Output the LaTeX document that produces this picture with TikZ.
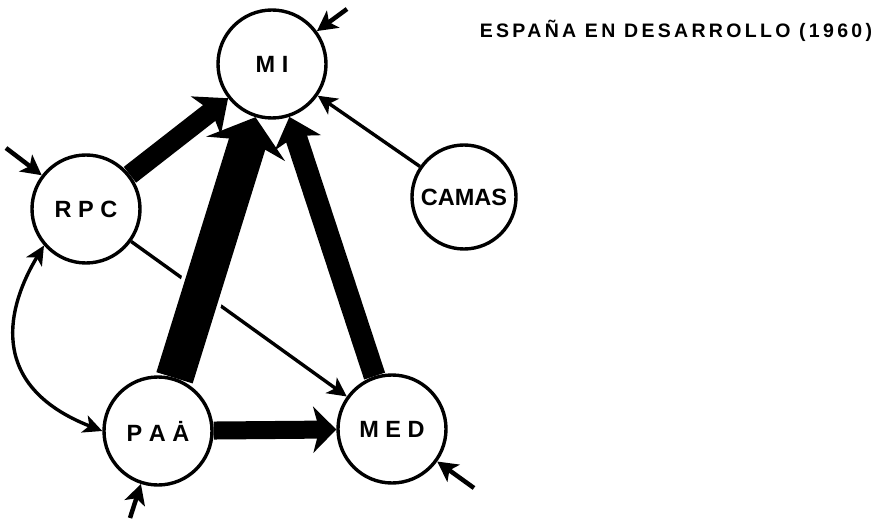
\documentclass[tikz,border=0pt]{standalone}
\usepackage{fontspec}
\setmainfont{Liberation Sans}
\newfontfamily\titlefont[LetterSpace=17]{Liberation Sans}
\usetikzlibrary{arrows.meta}
\begin{document}
\begin{tikzpicture}[x=1pt,y=-1pt,
  state/.style={circle,draw,line width=3.4pt,fill=white,minimum size=108pt,inner sep=0pt,font=\bfseries\fontsize{23.5}{26}\selectfont},
  thin/.style={line width=3.4pt,-{Stealth[length=19pt,width=19pt,inset=5pt]}},
  stub/.style={line width=4.5pt,-{Stealth[length=20pt,width=21pt,inset=5pt]}},
  flowA/.style={line width=38pt,-{Stealth[length=33pt,width=82pt,inset=9pt]}},
  flowB/.style={line width=22pt,-{Stealth[length=27pt,width=48pt,inset=7pt]}},
  flowC/.style={line width=20pt,-{Stealth[length=28pt,width=48pt,inset=7pt]}},
  flowD/.style={line width=18pt,-{Stealth[length=23pt,width=46pt,inset=6pt]}},
  curvearrow/.style={line width=3.4pt,{Stealth[length=19pt,width=18pt,inset=5pt]}-{Stealth[length=19pt,width=18pt,inset=5pt]}}
]
\useasboundingbox (0,0) rectangle (883,521);

\node[state] (MI) at (272,64) {M I};
\node[state] (RPC) at (86,209) {R P C};
\node[state] (PAA) at (158,431) {P A Ȧ};
\node[state] (MED) at (392,429) {M E D};
\node[state,minimum size=104pt] (CAMAS) at (464,197) {CAMAS};

\node[font=\titlefont\bfseries\fontsize{19.5}{22}\selectfont] (title) at (676,31) {ESPAÑA EN DESARROLLO (1960)};

\coordinate (sMI) at (347,9);
\coordinate (sRPC) at (6,148);
\coordinate (sPAA) at (130,518);
\coordinate (sMED) at (474,488);

% thin connectors
\draw[thin] (RPC) -- (MED);
\draw[white,line width=46pt,shorten <=40pt,shorten >=60pt] (PAA) -- (MI);
\draw[thin] (CAMAS) -- (MI);

% thick flows
\draw[flowA] (PAA) -- (MI);
\draw[flowB] (MED) -- (MI);
\draw[flowC] (RPC) -- (MI);
\draw[flowD] (PAA) -- (MED);

% curved double arrow
\draw[curvearrow] (RPC.221) .. controls (8,305) and (-15,385) .. (PAA.west);

% stub inputs
\draw[stub] (sMI) -- (MI);
\draw[stub] (sRPC) -- (RPC);
\draw[stub] (sPAA) -- (PAA);
\draw[stub] (sMED) -- (MED);
\end{tikzpicture}
\end{document}
